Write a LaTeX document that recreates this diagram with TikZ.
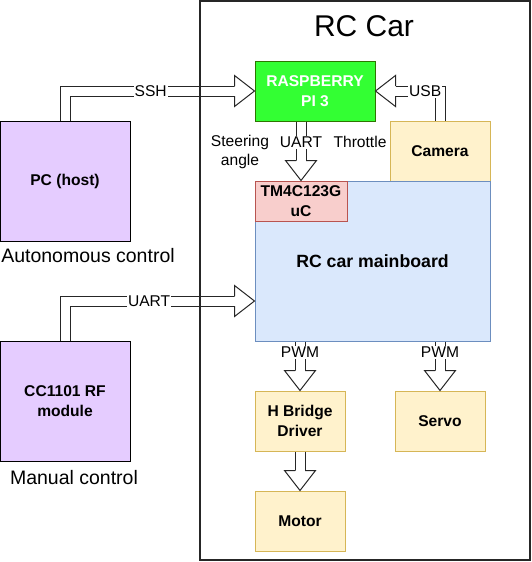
\documentclass[tikz,border=0pt]{standalone}
\usepackage{fontspec}
\setmainfont{Liberation Sans}
\usetikzlibrary{decorations.markings,calc}
\definecolor{pcfill}{HTML}{E5CCFF}
\definecolor{pifill}{HTML}{33FF33}
\definecolor{pidraw}{HTML}{2D7600}
\definecolor{yelfill}{HTML}{FFF2CC}
\definecolor{yeldraw}{HTML}{D6B656}
\definecolor{bluefill}{HTML}{DAE8FC}
\definecolor{bluedraw}{HTML}{6C8EBF}
\definecolor{redfill}{HTML}{F8CECC}
\definecolor{reddraw}{HTML}{B85450}
\tikzset{
	box/.style={draw, line width=1pt, align=center, inner sep=0pt,
		font=\bfseries\fontsize{15.6}{19.5}\selectfont},
	lbl/.style={fill=white, inner sep=1pt, font=\fontsize{15.6}{19.5}\selectfont},
	note/.style={align=center, font=\fontsize{15.6}{19.5}\selectfont},
	fatshaft/.style={draw=black!85, line width=1pt, double=white, double distance=9pt, shorten >=20pt},
	fathead/.style={decorate, decoration={markings, mark=at position 1 with {
		\fill[white] (-20,-15.5) -- (0,0) -- (-20,15.5) -- cycle;
		\draw[black!85, line width=1pt, line join=miter] (-20,5) -- (-20,15.5) -- (0,0) -- (-20,-15.5) -- (-20,-5);
	}}}
}
\newcommand{\fatlink}[1]{
	\draw[fatshaft] #1;
	\path[fathead] #1;
}

\begin{document}
\begin{tikzpicture}[x=1pt,y=-1pt]
	\useasboundingbox (0,0) rectangle (532,562);
	% outside the car
	\node[box, fill=pcfill, minimum width=130, minimum height=120] (pc) at (65,181) {PC (host)};
	\node[box, fill=pcfill, minimum width=130, minimum height=120] (cc) at (65,401) {CC1101 RF\\module};
	\node[font=\fontsize{19.5}{23}\selectfont] (auto) at (88,256) {Autonomous control};
	\node[font=\fontsize{19.5}{23}\selectfont] (manual) at (74,478) {Manual control};
	% inside the car
	\node[font=\fontsize{30}{36}\selectfont] (title) at (364,26) {RC Car};
	\node[box, fill=pifill, draw=pidraw, text=white, minimum width=120, minimum height=60] (rpi) at (315,91) {RASPBERRY\\PI 3};
	\node[box, fill=yelfill, draw=yeldraw, minimum width=100, minimum height=60] (cam) at (440,151) {Camera};
	\node[box, fill=bluefill, draw=bluedraw, minimum width=235, minimum height=160, font=\bfseries\fontsize{17.7}{21}\selectfont] (board) at (372.5,261) {RC car mainboard};
	\node[box, fill=redfill, draw=reddraw, minimum width=92, minimum height=40] (uc) at (301,201) {TM4C123G\\uC};
	\node[box, fill=yelfill, draw=yeldraw, minimum width=90, minimum height=60] (hb) at (300,421) {H Bridge\\Driver};
	\node[box, fill=yelfill, draw=yeldraw, minimum width=90, minimum height=60] (servo) at (440,421) {Servo};
	\node[box, fill=yelfill, draw=yeldraw, minimum width=90, minimum height=60] (motor) at (300,521) {Motor};
	\node[note] (steer) at (240,152) {Steering\\angle};
	\node[note] (throttle) at (360,142) {Throttle};

	\fatlink{(pc.north) |- (rpi.west) node[lbl, pos=0.726] {SSH}}
	\fatlink{(cam.north) |- (rpi.east) node[lbl, pos=0.615] {USB}}
	\fatlink{(uc.north |- rpi.south) -- (uc.north) node[lbl, pos=0.35] {UART}}
	\fatlink{(cc.north) |- ($(board.west)+(0,40)$) node[lbl, pos=0.722] {UART}}
	\fatlink{(hb.north |- board.south) -- (hb.north) node[lbl, pos=0.22] {PWM}}
	\fatlink{(servo.north |- board.south) -- (servo.north) node[lbl, pos=0.22] {PWM}}
	\fatlink{(hb.south) -- (motor.north)}

	\draw[black!85, line width=2pt] (200,1) rectangle (530,560);
\end{tikzpicture}
\end{document}
